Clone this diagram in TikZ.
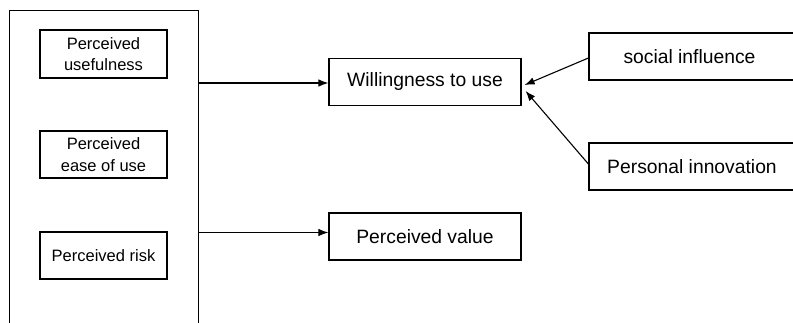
\documentclass[tikz,border=0pt]{standalone}
\usepackage{fontspec}
\setmainfont{Liberation Sans}
\usetikzlibrary{arrows.meta,calc}
\tikzset{
  big/.style={font=\fontsize{19.3}{23}\selectfont},
  small/.style={font=\fontsize{16.5}{21.5}\selectfont, align=center},
  box/.style={draw, line width=1.2pt, inner sep=0pt},
  conn/.style={line width=1.1pt, -{Latex[length=10pt,width=7.5pt]}},
}
\begin{document}
\begin{tikzpicture}[x=1pt,y=-1pt]
\useasboundingbox (0,0) rectangle (793,322);
\clip (0,0) rectangle (793,322);
% outer frame (bottom edge out of view)
\node[box, minimum width=189pt, minimum height=340pt, anchor=north west] (frame) at (9,10) {};
% inner boxes
\node[box, small, minimum width=127pt, minimum height=48pt] (pu) at (103.5,54) {Perceived\\usefulness};
\node[box, small, minimum width=127pt, minimum height=47pt] (pe) at (103.5,154.5) {Perceived\\ease of use};
\node[box, small, minimum width=127pt, minimum height=47pt] (pr) at (103.5,255.5) {Perceived risk};
% middle boxes
\node[box, big, minimum width=192pt, minimum height=47pt] (wil) at (425,82) {Willingness to use};
\node[box, big, minimum width=192pt, minimum height=47pt] (pv) at (425,236.5) {Perceived value};
% right boxes (right edge out of view)
\node[box, big, minimum width=214pt, minimum height=47pt] (si) at (696,56.5) {social influence\hspace*{13pt}};
\node[box, big, minimum width=214pt, minimum height=47pt] (pin) at (696,166.5) {Personal innovation\hspace*{8pt}};
% connectors
\draw[conn] (frame.east |- 0,83) -- (wil.west |- 0,83);
\draw[conn] (frame.east |- 0,232.5) -- (pv.west |- 0,232.5);
\draw[conn] ($(si.west)+(0,1.5)$) -- ($(wil.east)+(3,3)$);
\draw[conn] ($(pin.west)+(0,-2.5)$) -- ($(wil.east)+(4,9)$);
\end{tikzpicture}
\end{document}
